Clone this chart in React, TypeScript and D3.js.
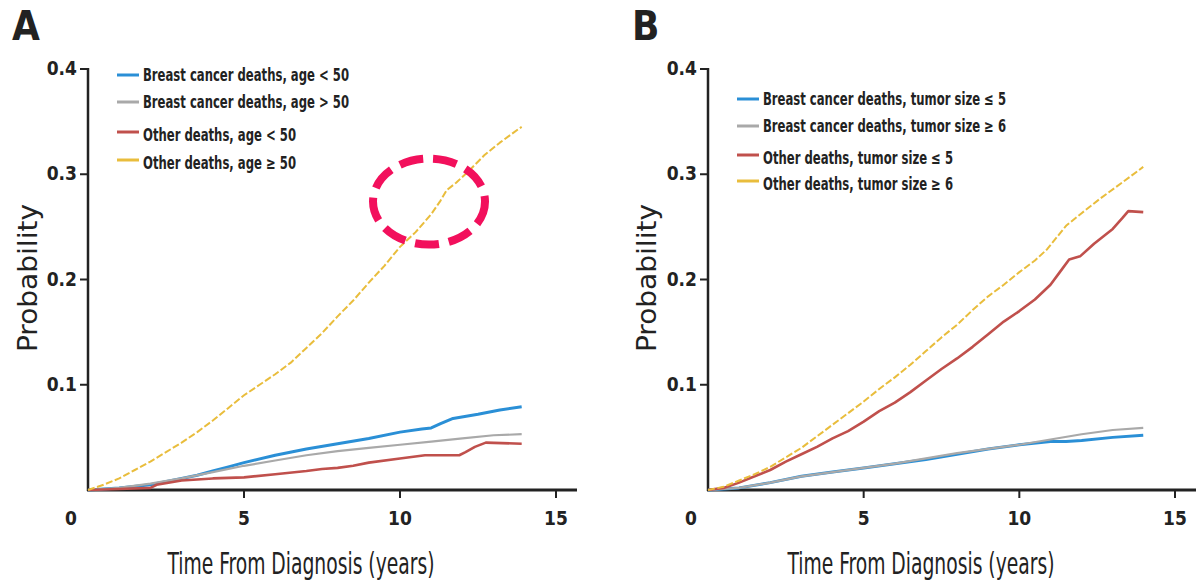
import React from "react";
import * as d3 from "d3";

type Pt = [number, number];

// ---------- Panel A data (years, probability) ----------
const aBreastYoung: Pt[] = [
  [0, 0], [1, 0.002], [2, 0.005], [3, 0.011], [3.5, 0.014], [4, 0.018], [4.5, 0.022], [5, 0.026],
  [6, 0.033], [7, 0.039], [8, 0.044], [9, 0.049], [10, 0.055], [10.7, 0.058], [11.0, 0.059],
  [11.3, 0.063], [11.7, 0.068], [12.5, 0.072], [13.2, 0.076], [13.9, 0.079],
];
const aBreastOld: Pt[] = [
  [0, 0], [1, 0.002], [2, 0.006], [3, 0.011], [4, 0.017], [5, 0.023], [6, 0.028], [7, 0.033],
  [8, 0.037], [9, 0.040], [10, 0.043], [11, 0.046], [12, 0.049], [13, 0.052], [13.9, 0.053],
];
const aOtherYoung: Pt[] = [
  [0, 0], [1, 0.001], [2, 0.002], [2.2, 0.005], [3, 0.009], [4, 0.011], [5, 0.012], [6, 0.015],
  [7, 0.018], [7.5, 0.020], [8, 0.021], [8.5, 0.023], [9, 0.026], [10, 0.030], [10.8, 0.033],
  [11.9, 0.033], [12.1, 0.036], [12.4, 0.041], [12.75, 0.045], [13.9, 0.044],
];
const aOtherOld: Pt[] = [
  [0, 0], [0.5, 0.005], [1, 0.011], [1.5, 0.019], [2, 0.027], [2.5, 0.036], [3, 0.045], [3.5, 0.055],
  [4, 0.066], [4.5, 0.078], [5, 0.090], [5.5, 0.100], [6, 0.110], [6.5, 0.121], [7, 0.135],
  [7.5, 0.149], [8, 0.165], [8.5, 0.180], [9, 0.197], [9.5, 0.213], [10, 0.231], [10.5, 0.245],
  [11, 0.262], [11.3, 0.275], [11.5, 0.285], [11.8, 0.292], [12.2, 0.303], [12.7, 0.318],
  [13.2, 0.330], [13.8, 0.343], [13.9, 0.345],
];

// ---------- Panel B data ----------
const bBreastSmall: Pt[] = [
  [0, 0], [1, 0.002], [2, 0.007], [3, 0.013], [4, 0.017], [5, 0.021], [6, 0.025], [7, 0.029],
  [8, 0.034], [9, 0.039], [10, 0.043], [11, 0.046], [11.5, 0.046], [12, 0.047], [13, 0.050], [13.98, 0.052],
];
const bBreastLarge: Pt[] = [
  [0, 0], [1, 0.002], [2, 0.007], [3, 0.013], [4, 0.017], [5, 0.021], [6, 0.025], [7, 0.030],
  [8, 0.035], [9, 0.039], [10, 0.043], [11, 0.048], [12, 0.053], [13, 0.057], [13.98, 0.059],
];
const bOtherSmall: Pt[] = [
  [0, 0], [0.5, 0.002], [1, 0.007], [1.5, 0.013], [2, 0.019], [2.5, 0.027], [3, 0.034], [3.5, 0.041],
  [4, 0.049], [4.5, 0.056], [5, 0.065], [5.5, 0.075], [6, 0.083], [6.5, 0.093], [7, 0.104],
  [7.5, 0.115], [8, 0.125], [8.5, 0.136], [9, 0.148], [9.5, 0.160], [10, 0.170], [10.5, 0.181],
  [11, 0.195], [11.3, 0.207], [11.6, 0.219], [11.95, 0.222], [12.4, 0.234], [13.0, 0.248],
  [13.3, 0.258], [13.5, 0.265], [13.98, 0.264],
];
const bOtherLarge: Pt[] = [
  [0, 0], [0.5, 0.003], [1, 0.009], [1.5, 0.015], [2, 0.022], [2.5, 0.031], [3, 0.040], [3.5, 0.051],
  [4, 0.062], [4.5, 0.073], [5, 0.084], [5.5, 0.096], [6, 0.107], [6.5, 0.119], [7, 0.132],
  [7.5, 0.145], [8, 0.157], [8.5, 0.171], [9, 0.184], [9.5, 0.195], [10, 0.207], [10.5, 0.218],
  [10.9, 0.229], [11.2, 0.240], [11.5, 0.251], [12, 0.263], [12.6, 0.277], [13.3, 0.292], [13.98, 0.307],
];

const legendA = [
  "Breast cancer deaths, age < 50",
  "Breast cancer deaths, age > 50",
  "Other deaths, age < 50",
  "Other deaths, age \u2265 50",
];
const legendB = [
  "Breast cancer deaths, tumor size \u2264 5",
  "Breast cancer deaths, tumor size \u2265 6",
  "Other deaths, tumor size \u2264 5",
  "Other deaths, tumor size \u2265 6",
];

const xTicks = [5, 10, 15];
const yTicks = [0.1, 0.2, 0.3, 0.4];
const yTickLabels = ["0.1", "0.2", "0.3", "0.4"];

const COLORS = ["#2a8fd6", "#a9a9a9", "#c0504c", "#e9bd3c"];
const WIDTHS = [3, 2.2, 2.6, 2];
const FONT = "'Liberation Sans Narrow', 'DejaVu Sans Condensed', 'Arial Narrow', sans-serif";
const INK = "#222";

type PanelProps = {
  letter: string;
  x0: number;
  x15: number;
  series: Pt[][];
  legend: string[];
  legendX: number;
  legendRows: number[];
  legendLens: number[];
  titleCenter: number;
  probX: number;
  highlight?: [number, number];
};

function Panel(p: PanelProps) {
  const x = d3.scaleLinear().domain([0, 15]).range([p.x0, p.x15]);
  const y = d3.scaleLinear().domain([0, 0.4]).range([490, 69]);
  const line = d3
    .line<Pt>()
    .x((d) => x(d[0]))
    .y((d) => y(d[1]))
    .curve(d3.curveLinear);
  const axisEnd = x(15) + 21;
  return (
    <g fontFamily={FONT} fill={INK}>
      <text x={x(0) - 76} y={40} fontSize={40} fontWeight={600}>
        {p.letter}
      </text>
      {/* y axis */}
      <line x1={x(0)} x2={x(0)} y1={y(0.4) - 1} y2={y(0) + 1} stroke={INK} strokeWidth={2.5} />
      {yTicks.map((t, i) => (
        <g key={t}>
          <line x1={x(0) - 8} x2={x(0)} y1={y(t)} y2={y(t)} stroke={INK} strokeWidth={2} />
          <text x={x(0) - 11} y={y(t) + 6} fontSize={19} fontWeight={600} textAnchor="end">
            {yTickLabels[i]}
          </text>
        </g>
      ))}
      {/* x axis */}
      <line x1={x(0) - 1} x2={axisEnd} y1={y(0)} y2={y(0)} stroke={INK} strokeWidth={2.8} />
      {xTicks.map((t) => (
        <g key={t}>
          <line x1={x(t)} x2={x(t)} y1={y(0)} y2={y(0) + 8} stroke={INK} strokeWidth={2} />
          <text x={x(t)} y={y(0) + 35} fontSize={19} fontWeight={600} textAnchor="middle">
            {t}
          </text>
        </g>
      ))}
      <text x={x(0) - 17} y={y(0) + 35} fontSize={19} fontWeight={600} textAnchor="middle">
        0
      </text>
      <text
        x={p.titleCenter}
        y={574}
        fontSize={31}
        textAnchor="middle"
        textLength={267}
        lengthAdjust="spacingAndGlyphs"
      >
        Time From Diagnosis (years)
      </text>
      <text
        transform={`translate(${p.probX},${278}) rotate(-90)`}
        fontSize={27}
        textAnchor="middle"
        textLength={148}
        lengthAdjust="spacingAndGlyphs"
      >
        Probability
      </text>
      {/* series */}
      {p.series.map((s, i) => (
        <path
          key={i}
          d={line(s) || ""}
          fill="none"
          stroke={COLORS[i]}
          strokeWidth={WIDTHS[i]}
          strokeDasharray={i === 3 ? "7 2.5" : undefined}
          strokeLinejoin="round"
        />
      ))}
      {/* legend */}
      {p.legend.map((lab, i) => (
        <g key={lab}>
          <line
            x1={p.legendX}
            x2={p.legendX + 22}
            y1={p.legendRows[i] - (i >= 2 ? 3 : 0)}
            y2={p.legendRows[i] - (i >= 2 ? 3 : 0)}
            stroke={COLORS[i]}
            strokeWidth={3}
          />
          <text
            x={p.legendX + 26}
            y={p.legendRows[i] + 6}
            fontSize={17}
            fontWeight={700}
            textLength={p.legendLens[i]}
            lengthAdjust="spacingAndGlyphs"
          >
            {lab}
          </text>
        </g>
      ))}
      {p.highlight && (
        <ellipse
          cx={x(p.highlight[0])}
          cy={y(p.highlight[1])}
          rx={56}
          ry={43}
          fill="none"
          stroke="#f2105c"
          strokeWidth={8}
          strokeDasharray="24 10"
        />
      )}
    </g>
  );
}

export default function App() {
  return (
    <svg
      width={1200}
      height={584}
      viewBox="0 0 1200 584"
      style={{ position: "absolute", left: 0, top: 0, background: "#fff" }}
    >
      <rect width={1200} height={584} fill="#fff" />
      <Panel
        letter="A"
        x0={88}
        x15={556}
        series={[aBreastYoung, aBreastOld, aOtherYoung, aOtherOld]}
        legend={legendA}
        legendX={117}
        legendRows={[75, 102, 135, 163]}
        legendLens={[206, 206, 153, 153]}
        titleCenter={301}
        probX={37}
        highlight={[10.93, 0.274]}
      />
      <Panel
        letter="B"
        x0={708}
        x15={1175}
        series={[bBreastSmall, bBreastLarge, bOtherSmall, bOtherLarge]}
        legend={legendB}
        legendX={737}
        legendRows={[99, 126, 158, 184]}
        legendLens={[243, 243, 190, 190]}
        titleCenter={921}
        probX={656}
      />
    </svg>
  );
}
